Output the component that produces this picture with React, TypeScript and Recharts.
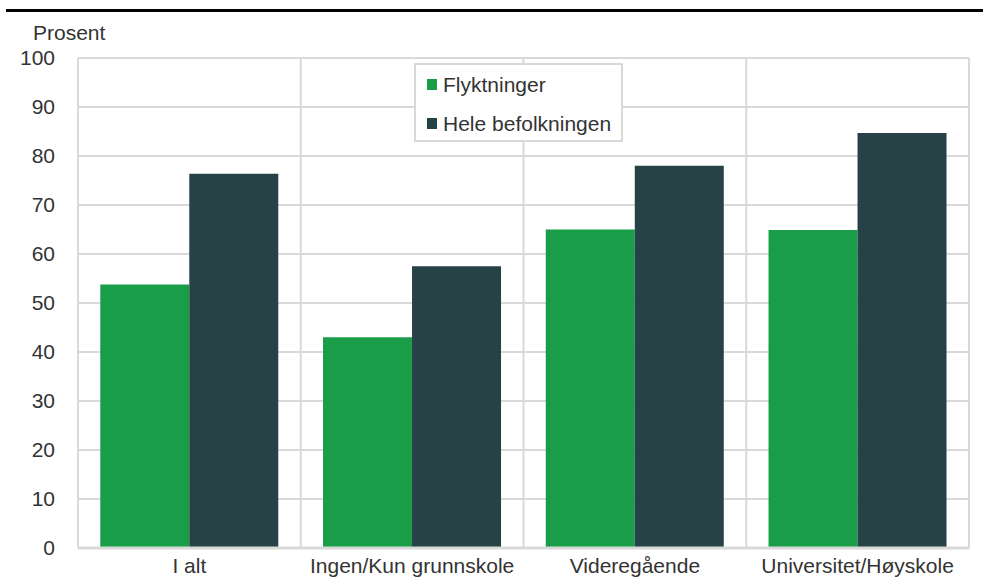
import { Bar, BarChart, CartesianGrid, XAxis, YAxis } from "recharts";

const categories = ["I alt", "Ingen/Kun grunnskole", "Videregående", "Universitet/Høyskole"];
const flyktninger = [53.8, 43.0, 65.0, 64.9];
const heleBefolkningen = [76.4, 57.5, 78.0, 84.7];
const yTicks = [0, 10, 20, 30, 40, 50, 60, 70, 80, 90, 100];

const series = [
  { key: "flyktninger", name: "Flyktninger", color: "#1a9d49" },
  { key: "hele", name: "Hele befolkningen", color: "#274247" },
];

const data = categories.map((name, i) => ({
  name,
  flyktninger: flyktninger[i],
  hele: heleBefolkningen[i],
}));

const GRID = "#d9d9d9";
const TEXT = "#333";
const FONT = "'Liberation Sans', Arial, sans-serif";

export default function App() {
  return (
    <div style={{ position: "absolute", left: 0, top: 0, width: 983, height: 585, background: "#fff" }}>
      <div style={{ position: "absolute", left: 6, right: 0, top: 9, height: 3, background: "#000" }} />
      <div
        style={{ position: "absolute", left: 33, top: 21, fontFamily: FONT, fontSize: 21, color: TEXT }}
      >
        Prosent
      </div>
      <BarChart
        width={983}
        height={585}
        data={data}
        margin={{ top: 58, right: 14, bottom: 7, left: 17 }}
        barCategoryGap="10%"
        barGap={0}
      >
        <CartesianGrid
          stroke={GRID}
          strokeWidth={2}
          verticalCoordinatesGenerator={({ offset }: any) =>
            categories
              .map((_, i) => offset.left + (i * offset.width) / categories.length)
              .concat(offset.left + offset.width)
          }
        />
        <XAxis
          dataKey="name"
          tickLine={false}
          axisLine={{ stroke: GRID, strokeWidth: 3 }}
          height={30}
          tick={{ fontFamily: FONT, fontSize: 21, fill: TEXT }}
          tickMargin={4}
        />
        <YAxis
          domain={[0, 100]}
          ticks={yTicks}
          width={61}
          tickLine={false}
          axisLine={false}
          tick={{ fontFamily: FONT, fontSize: 21, fill: TEXT }}
          tickMargin={17}
        />
        {series.map((s) => (
          <Bar key={s.key} dataKey={s.key} name={s.name} fill={s.color} isAnimationActive={false} />
        ))}
      </BarChart>
      <div
        style={{
          position: "absolute",
          left: 414,
          top: 63,
          width: 209,
          height: 79,
          border: `2px solid ${GRID}`,
          background: "#fff",
          boxSizing: "border-box",
          padding: "0 0 0 11px",
          fontFamily: FONT,
          fontSize: 21,
          color: TEXT,
        }}
      >
        {series.map((s) => (
          <div key={s.key} style={{ display: "flex", alignItems: "center", height: 39 }}>
            <span style={{ width: 10, height: 11, background: s.color, marginRight: 6 }} />
            {s.name}
          </div>
        ))}
      </div>
    </div>
  );
}
